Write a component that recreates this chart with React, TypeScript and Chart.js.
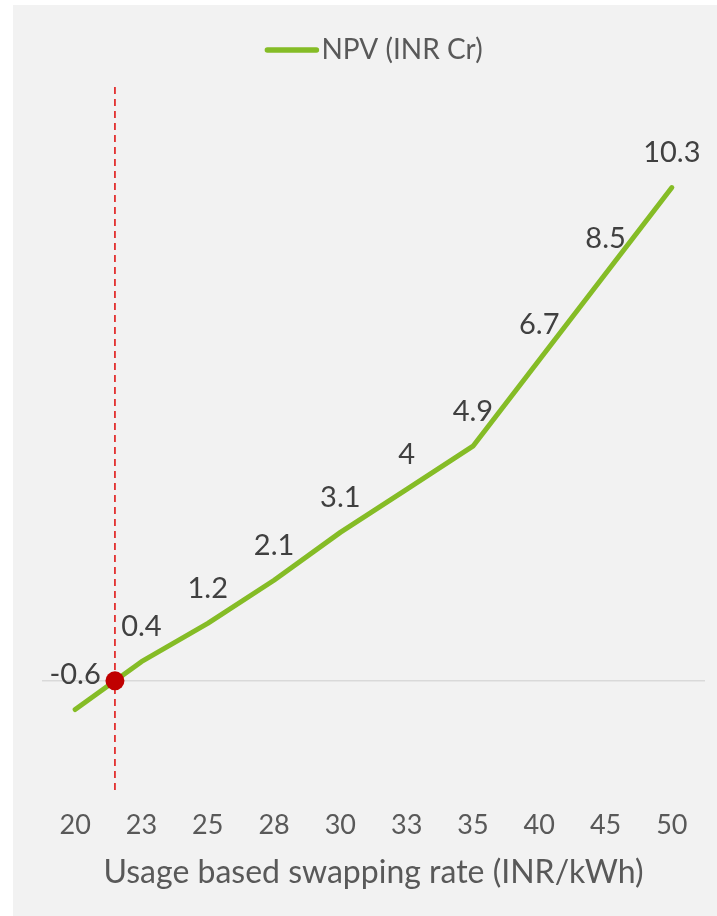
import React, { useEffect, useRef } from "react";
import { Chart, registerables } from "chart.js";

Chart.register(...registerables);

const categories = ["20", "23", "25", "28", "30", "33", "35", "40", "45", "50"];
const npvValues = [-0.6, 0.4, 1.2, 2.1, 3.1, 4, 4.9, 6.7, 8.5, 10.3];
const seriesLabel = "NPV (INR Cr)";
const xAxisTitle = "Usage based swapping rate (INR/kWh)";

const FONT = "Lato, 'Open Sans', sans-serif";
const GREEN = "#85bc26";

// fractional category index where the line crosses zero
function breakEvenIndex(vals: number[]): number {
  for (let i = 0; i < vals.length - 1; i++) {
    const a = vals[i], b = vals[i + 1];
    if (a <= 0 && b >= 0) return i + (0 - a) / (b - a);
  }
  return 0;
}

const overlayPlugin = {
  id: "overlay",
  beforeDatasetsDraw(chart: any) {
    const { ctx, chartArea, scales } = chart;
    const x = scales.x.getPixelForValue(breakEvenIndex(npvValues));
    ctx.save();
    ctx.strokeStyle = "#e2302f";
    ctx.lineWidth = 1.8;
    ctx.setLineDash([7, 5]);
    ctx.beginPath();
    ctx.moveTo(x, chartArea.top);
    ctx.lineTo(x, chartArea.bottom);
    ctx.stroke();
    ctx.restore();
  },
  afterDatasetsDraw(chart: any) {
    const { ctx, scales, chartArea } = chart;
    const meta = chart.getDatasetMeta(0);
    ctx.save();
    ctx.fillStyle = "#404040";
    ctx.font = `29px ${FONT}`;
    ctx.textAlign = "center";
    ctx.textBaseline = "middle";
    meta.data.forEach((p: any, i: number) => {
      ctx.fillText(String(npvValues[i]), p.x, p.y - 35);
    });
    // break-even dot
    const bx = scales.x.getPixelForValue(breakEvenIndex(npvValues));
    const by = scales.y.getPixelForValue(0);
    ctx.fillStyle = "#c00000";
    ctx.beginPath();
    ctx.arc(bx, by, 9.5, 0, Math.PI * 2);
    ctx.fill();
    // legend
    ctx.font = `28px ${FONT}`;
    const tw = ctx.measureText(seriesLabel).width;
    const lineW = 55;
    const gap = 2;
    const total = lineW + gap + tw;
    const cx = (chartArea.left + chartArea.right) / 2;
    const startX = cx - total / 2;
    const ly = 45;
    ctx.strokeStyle = GREEN;
    ctx.lineWidth = 5.5;
    ctx.lineCap = "round";
    ctx.beginPath();
    ctx.moveTo(startX + 3, ly);
    ctx.lineTo(startX + lineW - 3, ly);
    ctx.stroke();
    ctx.fillStyle = "#595959";
    ctx.textAlign = "left";
    ctx.fillText(seriesLabel, startX + lineW + gap, ly);
    ctx.restore();
  },
};

export default function App() {
  const ref = useRef<HTMLCanvasElement>(null);
  useEffect(() => {
    if (!ref.current) return;
    const chart = new Chart(ref.current, {
      type: "line",
      data: {
        labels: categories,
        datasets: [
          {
            label: seriesLabel,
            data: npvValues,
            borderColor: GREEN,
            backgroundColor: GREEN,
            borderWidth: 5,
            pointRadius: 0,
            tension: 0,
            borderCapStyle: "round",
            borderJoinStyle: "round",
          },
        ],
      },
      options: {
        responsive: false,
        animation: false,
        layout: { padding: { left: 29, right: 12, top: 82, bottom: 27 } },
        plugins: { legend: { display: false }, tooltip: { enabled: false } },
        scales: {
          x: {
            offset: true,
            grid: { display: false, drawTicks: false },
            border: { display: false },
            ticks: {
              color: "#595959",
              font: { family: FONT, size: 27, lineHeight: 1 },
              padding: 21,
              maxRotation: 0,
            },
            title: {
              display: true,
              text: xAxisTitle,
              color: "#595959",
              font: { family: FONT, size: 32, lineHeight: 1 },
              padding: { top: -3, bottom: 0 },
            },
          },
          y: {
            min: -2.3,
            max: 12.4,
            ticks: { display: false, stepSize: 2 },
            border: { display: false },
            grid: {
              drawTicks: false,
              lineWidth: 1.5,
              color: (c: any) => (c.tick && c.tick.value === 0 ? "#d9d9d9" : "rgba(0,0,0,0)"),
            },
          },
        },
      },
      plugins: [overlayPlugin],
    });
    return () => chart.destroy();
  }, []);
  return (
    <div
      style={{
        position: "absolute",
        left: 13,
        top: 5,
        width: 704,
        height: 911,
        background: "#f2f2f2",
      }}
    >
      <canvas ref={ref} width={704} height={911} style={{ display: "block" }} />
    </div>
  );
}
